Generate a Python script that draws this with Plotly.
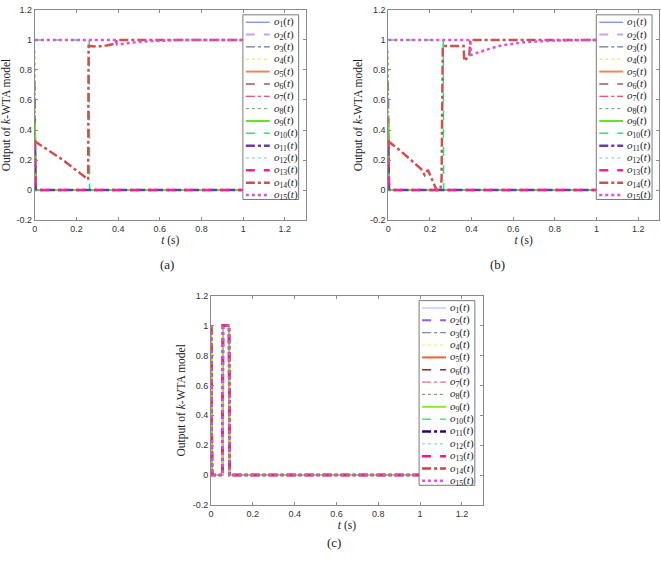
import plotly.graph_objects as go

W, H = 661, 562

# ---- series styles (shared by all three panels) ----
names = [f'<i>o</i><sub>{i}</sub>(<i>t</i>)' for i in range(1, 16)]
dashes = ['solid', 'dash', 'dashdot', 'dot', 'solid', 'dash', 'dashdot', 'dot',
          'solid', 'dash', 'dashdot', 'dot', 'dash', 'dashdot', 'dot']
widths = [1, 2, 1, 1, 2, 1.5, 1.2, 1, 2, 1.5, 2.5, 1, 2.5, 2.5, 2.5]
colors_ab = ['#4a72d8', '#c8a2f0', '#3a5a80', '#e8e040', '#f08850', '#a05858',
             '#e8203a', '#60a860', '#66e020', '#20e880', '#6a3aa8', '#70c8f0',
             '#ff2090', '#d05050', '#e050e0']
colors_c = ['#a0b8f0', '#9a5af0', '#607088', '#f8e870', '#f06030', '#902828',
            '#e07080', '#50a040', '#80f020', '#30f080', '#300080', '#80c8f0',
            '#ff1090', '#d04040', '#e050e0']

# ---- panel (a) ----
a_t_settle = [0, 0.004, 1.0]
a_start = [0.31, 0.62, 0.18, 0.85, 0.5, 0.72, 0.4, 0.93, 0.45, None, 0.29, None, 0.33, None, None]
a_t10 = [0, 0.261, 0.263, 1.0]
a_o10 = [1, 1, 0, 0]
a_t12 = [0, 1.0]
a_o12 = [1, 1]
a_t14 = [0, 0.005, 0.03, 0.055, 0.08, 0.105, 0.13, 0.155, 0.18, 0.205, 0.23, 0.256, 0.258,
         0.3, 0.35, 0.389, 0.392, 1.0]
a_o14 = [0.33, 0.32, 0.297, 0.275, 0.252, 0.23, 0.205, 0.178, 0.152, 0.125, 0.098, 0.07, 0.96,
         0.955, 0.965, 0.976, 1, 1]
a_t15 = [0, 0.392, 0.394, 0.45, 0.5, 0.55, 0.6, 0.65, 0.7, 1.0]
a_o15 = [1, 1, 0.97, 0.98, 0.987, 0.992, 0.996, 0.998, 1, 1]

# ---- panel (b) ----
b_t_settle = [0, 0.004, 1.0]
b_start = [0.31, 0.62, 0.18, 0.85, 0.5, 0.72, 0.4, 0.93, 0.45, None, 0.29, None, 0.33, None, None]
b_t10 = [0, 0.264, 0.266, 1.0]
b_o10 = [1, 1, 0, 0]
b_t12 = [0, 1.0]
b_o12 = [1, 1]
b_t14 = [0, 0.005, 0.06, 0.12, 0.158, 0.175, 0.19, 0.232, 0.25, 0.256, 0.262,
         0.362, 0.365, 0.389, 0.394, 1.0]
b_o14 = [0.33, 0.32, 0.26, 0.185, 0.14, 0.1, 0.135, 0, 0, 0.07, 0.96,
         0.96, 0.86, 0.895, 1, 1]
b_t15 = [0, 0.394, 0.397, 0.45, 0.5, 0.55, 0.6, 0.65, 0.7, 0.8, 1.0]
b_o15 = [1, 1, 0.9, 0.925, 0.948, 0.965, 0.976, 0.984, 0.989, 0.996, 1]

# ---- panel (c) ----
c_t = [0, 0.005, 0.055, 0.057, 0.086, 0.088, 1.0]
c_o = [1, 0, 0, 1, 1, 0, 0]

ticks_y = [-0.2, 0, 0.2, 0.4, 0.6, 0.8, 1, 1.2]
ticks_y_txt = ['-0.2', '0', '0.2', '0.4', '0.6', '0.8', '1', '1.2']
ticks_x = [0, 0.2, 0.4, 0.6, 0.8, 1, 1.2]
ticks_x_txt = ['0', '0.2', '0.4', '0.6', '0.8', '1', '1.2']


def panel_series(t_settle, start, extra):
    out = []
    for i in range(15):
        if i in extra:
            out.append(extra[i])
        else:
            out.append((t_settle, [start[i], 0, 0]))
    return out


series_a = panel_series(a_t_settle, a_start,
                        {9: (a_t10, a_o10), 11: (a_t12, a_o12), 13: (a_t14, a_o14), 14: (a_t15, a_o15)})
series_b = panel_series(b_t_settle, b_start,
                        {9: (b_t10, b_o10), 11: (b_t12, b_o12), 13: (b_t14, b_o14), 14: (b_t15, b_o15)})
series_c = [(c_t, c_o) for _ in range(15)]

# panel pixel boxes: (left, top, right, bottom)
boxes = {'a': (32, 5, 304, 219), 'b': (387, 5, 659, 219), 'c': (209, 296, 482, 509)}

fig = go.Figure()
panels = [('a', '', series_a, colors_ab), ('b', '2', series_b, colors_ab), ('c', '3', series_c, colors_c)]
for key, sfx, series, cols in panels:
    for i, (t, y) in enumerate(series):
        fig.add_trace(go.Scatter(
            x=t, y=y, mode='lines', showlegend=False, name=names[i],
            line=dict(color=cols[i], dash=dashes[i], width=widths[i]),
            xaxis='x' + sfx, yaxis='y' + sfx
        ))

axis_common = dict(showgrid=False, zeroline=False, showline=True, mirror='ticks',
                   linecolor='#8a8a8a', linewidth=1, ticks='inside', ticklen=3,
                   tickcolor='#8a8a8a', tickfont=dict(family='Liberation Sans', size=9, color='#333'))
title_font = dict(family='Liberation Serif', size=11.5, color='#222')

shapes, annotations = [], []
layout = {}
for key, sfx, series, cols in panels:
    l, t, r, b = boxes[key]
    layout['xaxis' + sfx] = dict(axis_common, domain=[l / W, r / W], range=[0, 1.3],
                                 tickvals=ticks_x, ticktext=ticks_x_txt, anchor='y' + sfx,
                                 title=dict(text='<i>t</i> (s)', font=title_font, standoff=2))
    layout['yaxis' + sfx] = dict(axis_common, domain=[1 - b / H, 1 - t / H], range=[-0.2, 1.2],
                                 tickvals=ticks_y, ticktext=ticks_y_txt, anchor='x' + sfx,
                                 title=dict(text='Output of <i>k</i>-WTA model', font=title_font, standoff=4))
    # legend box
    shapes.append(dict(type='rect', xref='paper', yref='paper',
                       x0=(l + 209) / W, x1=(l + 265) / W, y0=1 - (t + 5) / H, y1=1 - (t + 193) / H,
                       line=dict(color='#7a7a7a', width=1), fillcolor='white', layer='above'))
    for i in range(15):
        yc = t + 12.5 + 12.57 * i
        shapes.append(dict(type='line', xref='paper', yref='paper',
                           x0=(l + 212) / W, x1=(l + 236) / W, y0=1 - yc / H, y1=1 - yc / H,
                           line=dict(color=cols[i], dash=dashes[i], width=widths[i]), layer='above'))
        annotations.append(dict(text=names[i], xref='paper', yref='paper', x=(l + 238) / W, y=1 - yc / H,
                                xanchor='left', yanchor='middle', showarrow=False,
                                font=dict(family='Liberation Serif', size=11, color='#222')))

for lbl, px, py in [('(a)', 165, 264), ('(b)', 497, 264), ('(c)', 333, 547)]:
    annotations.append(dict(text=lbl, xref='paper', yref='paper', x=px / W, y=1 - py / H,
                            xanchor='center', yanchor='middle', showarrow=False,
                            font=dict(family='Liberation Serif', size=13, color='#222')))

fig.update_layout(
    width=W, height=H, margin=dict(l=0, r=0, t=0, b=0),
    paper_bgcolor='white', plot_bgcolor='white',
    shapes=shapes, annotations=annotations, **layout
)
fig.write_html('out.html', config={'displayModeBar': False},
               post_script="document.body.style.margin='0';document.body.style.overflow='hidden';")
